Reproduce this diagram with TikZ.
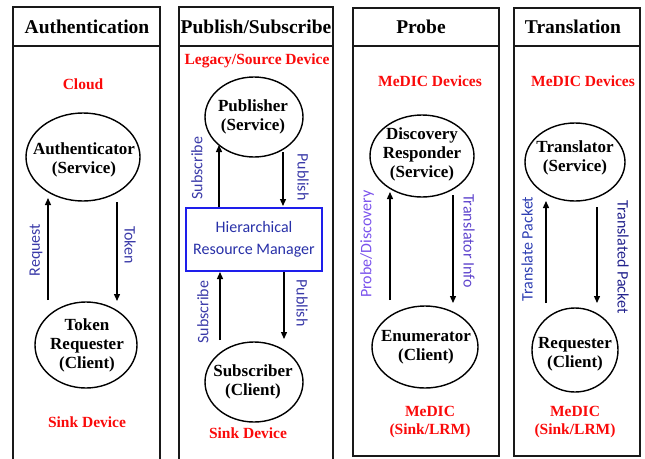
\documentclass[tikz,border=0pt]{standalone}
\usepackage{fontspec}
\setmainfont{Liberation Serif}
\newfontfamily\lblfont{Carlito}
\usetikzlibrary{shapes.geometric,arrows.meta}

\definecolor{msgblue}{RGB}{58,58,168}
\definecolor{msgpurple}{RGB}{122,82,236}
\definecolor{infopurple}{RGB}{96,70,205}
\definecolor{pktblue}{RGB}{45,62,178}
\definecolor{pktnavy}{RGB}{34,34,140}
\definecolor{hrmedge}{RGB}{30,30,235}
\definecolor{hrmtext}{RGB}{40,48,168}
\definecolor{devred}{RGB}{250,10,10}

\begin{document}
\begin{tikzpicture}[x=1pt,y=-1pt,
  colframe/.style={line width=1.4pt, draw=black!90},
  hdr/.style={font=\fontsize{19.5}{22}\selectfont\bfseries, inner sep=0},
  role/.style={draw, ellipse, line width=1.4pt, inner sep=0},
  roletext/.style={align=center, inner sep=0,
    font=\fontsize{17}{19}\selectfont\bfseries},
  devlbl/.style={text=devred, align=center, inner sep=0,
    font=\fontsize{15.5}{18}\selectfont\bfseries},
  msg/.style={font=\lblfont\fontsize{16}{18}\selectfont, inner sep=0},
  flow/.style={line width=1.3pt, -{Triangle[length=7pt,width=6pt]}}]

\useasboundingbox (0,0) rectangle (645,458);

% ---- column frames ----
\draw[colframe] (13,462) -- (13,7) -- (160,7) -- (160,462);
\draw[colframe] (13,46) -- (160,46);
\draw[colframe] (179,462) -- (179,7) -- (333,7) -- (333,462);
\draw[colframe] (179,46) -- (333,46);
\draw[colframe] (353,8) rectangle (499,456);
\draw[colframe] (353,46) -- (499,46);
\draw[colframe] (514,8) rectangle (640,456);
\draw[colframe] (514,46) -- (640,46);

% ---- headers ----
\node[hdr] (h1) at (87,27) {Authentication};
\node[hdr] (h2) at (256,27) {Publish/Subscribe};
\node[hdr] (h3) at (421,27) {Probe};
\node[hdr] (h4) at (573,27) {Translation};

% ---- Authentication ----
\node[devlbl] (cloud) at (83,84) {Cloud};
\node[role, minimum width=114, minimum height=88] (auth) at (83,157) {};
\node[roletext] (authT) at (84,160) {Authenticator\\(Service)};
\node[role, minimum width=102, minimum height=86] (treq) at (86,345) {};
\node[roletext] (treqT) at (87,345) {Token\\Requester\\(Client)};
\node[devlbl] (sink1) at (87,422) {Sink Device};
\coordinate (a1s) at (48,300); \coordinate (a1e) at (48,198);
\coordinate (a2s) at (117,202); \coordinate (a2e) at (117,301);
\draw[flow] (a1s) -- (a1e);
\draw[flow] (a2s) -- (a2e);
\node[msg, text=msgblue, rotate=90] (lreq) at (36,250) {Request};
\node[msg, text=msgblue, rotate=-90] (ltok) at (130,245) {Token};

% ---- Publish/Subscribe ----
\node[devlbl] (legacy) at (257,61) {Legacy/Source Device};
\node[role, minimum width=98, minimum height=80] (pub) at (254,117) {};
\node[roletext] (pubT) at (253,117) {Publisher\\(Service)};
\node[draw=hrmedge, line width=1.3pt, minimum width=136, minimum height=63, inner sep=0,
  align=center, text=hrmtext, font=\lblfont\fontsize{16}{22}\selectfont] (hrm) at (254,239.5)
  {Hierarchical\\Resource Manager};
\node[role, minimum width=98, minimum height=80] (sub) at (254,382) {};
\node[roletext] (subT) at (253,382) {Subscriber\\(Client)};
\node[devlbl] (sink2) at (248,433) {Sink Device};
\coordinate (b1s) at (219,207); \coordinate (b1e) at (219,145);
\coordinate (b2s) at (283,152); \coordinate (b2e) at (283,206);
\coordinate (b3s) at (220,340); \coordinate (b3e) at (220,272);
\coordinate (b4s) at (284,272); \coordinate (b4e) at (284,339);
\draw[flow] (b1s) -- (b1e);
\draw[flow] (b2s) -- (b2e);
\draw[flow] (b3s) -- (b3e);
\draw[flow] (b4s) -- (b4e);
\node[msg, text=msgblue, rotate=90] (lsub1) at (197,168) {Subscribe};
\node[msg, text=msgblue, rotate=-90] (lpub1) at (303,177) {Publish};
\node[msg, text=msgblue, rotate=90] (lsub2) at (203,312) {Subscribe};
\node[msg, text=msgblue, rotate=-90] (lpub2) at (302,303) {Publish};

% ---- Probe ----
\node[devlbl] (medic1) at (430,81) {MeDIC Devices};
\node[role, minimum width=104, minimum height=82] (disc) at (422,156) {};
\node[roletext] (discT) at (422,154) {Discovery\\Responder\\(Service)};
\node[role, minimum width=106, minimum height=82] (enum) at (425,347) {};
\node[roletext] (enumT) at (426,347) {Enumerator\\(Client)};
\node[devlbl] (sink3) at (430,422) {MeDIC\\(Sink/LRM)};
\coordinate (c1s) at (390,300); \coordinate (c1e) at (390,192);
\coordinate (c2s) at (453,195); \coordinate (c2e) at (453,303);
\draw[flow] (c1s) -- (c1e);
\draw[flow] (c2s) -- (c2e);
\node[msg, text=msgpurple, rotate=90] (lprobe) at (367,244) {Probe/Discovery};
\node[msg, text=infopurple, rotate=-90] (linfo) at (469,241) {Translator Info};

% ---- Translation ----
\node[devlbl] (medic2) at (583,81) {MeDIC Devices};
\node[role, minimum width=100, minimum height=78] (trans) at (575,162) {};
\node[roletext] (transT) at (575,158) {Translator\\(Service)};
\node[role, minimum width=86, minimum height=84] (rreq) at (575,350) {};
\node[roletext] (rreqT) at (575,354) {Requester\\(Client)};
\node[devlbl] (sink4) at (575,422) {MeDIC\\(Sink/LRM)};
\coordinate (d1s) at (546,303); \coordinate (d1e) at (546,201);
\coordinate (d2s) at (597,207); \coordinate (d2e) at (597,303);
\draw[flow] (d1s) -- (d1e);
\draw[flow] (d2s) -- (d2e);
\node[msg, text=pktblue, rotate=90] (ltp) at (527,249) {Translate Packet};
\node[msg, text=pktnavy, rotate=-90] (ltdp) at (623,257) {Translated Packet};

\end{tikzpicture}
\end{document}
